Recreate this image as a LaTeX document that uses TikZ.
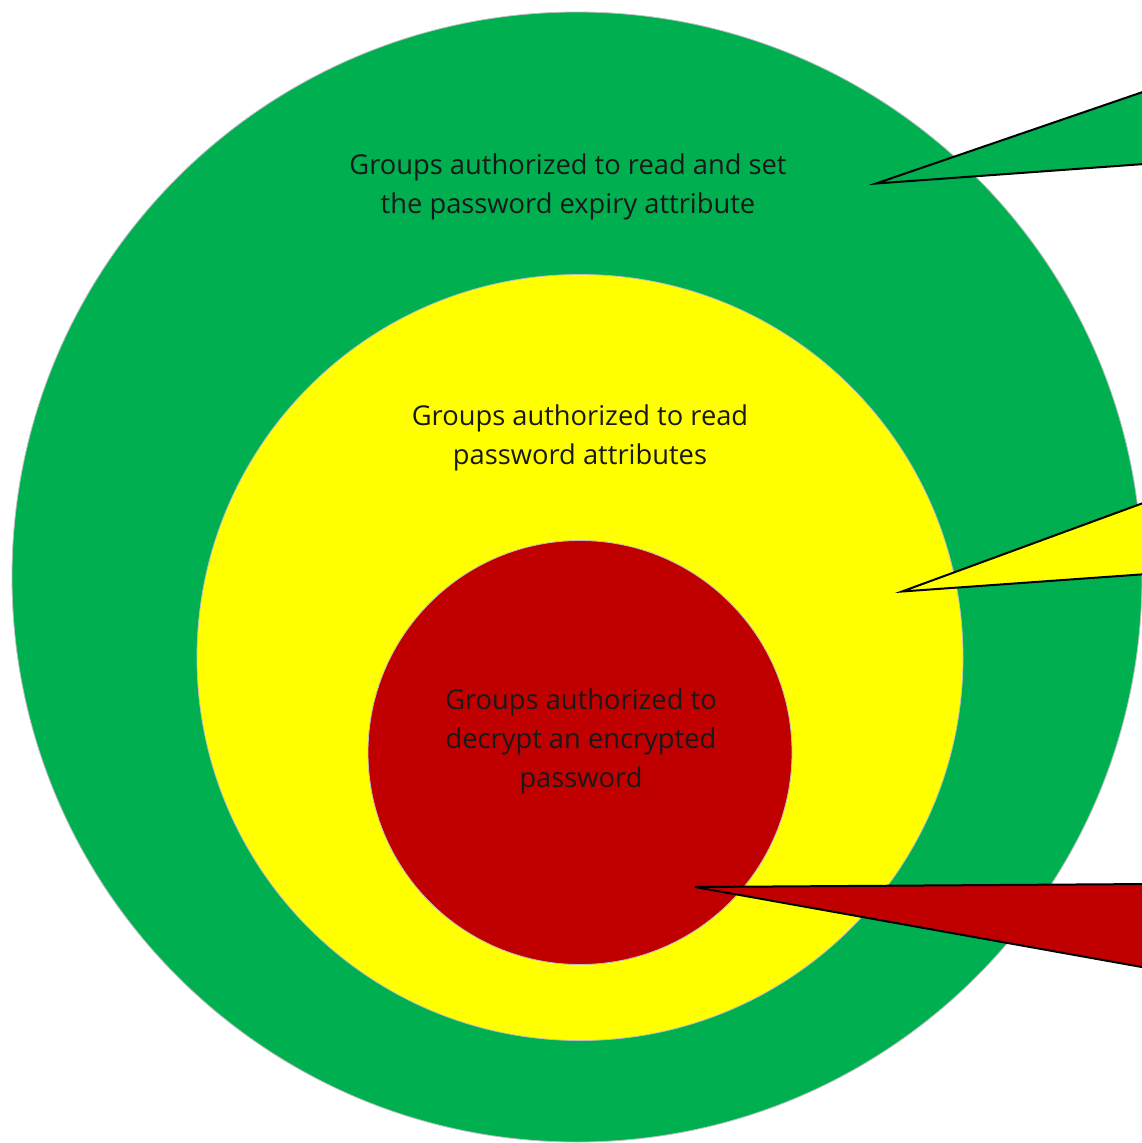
\documentclass[tikz,border=0pt]{standalone}
\usepackage{fontspec}
\setmainfont{Open Sans}
\definecolor{ggreen}{HTML}{00B050}
\definecolor{gyellow}{HTML}{FFFF00}
\definecolor{gred}{HTML}{C00000}
\begin{document}
\begin{tikzpicture}[x=1pt,y=-1pt,
  ring/.style={draw=black!25,line width=0.8pt},
  lbl/.style={align=center,font=\fontsize{27.3}{39}\selectfont,text=black!90,inner sep=0pt},
  wedge/.style={draw=black,line width=2pt,line join=miter}]
\useasboundingbox (0,0) rectangle (1142,1143);
\clip (0,0) rectangle (1142,1143);
\fill[white] (0,0) rectangle (1142,1143);
\node[ring,fill=ggreen,circle,minimum size=1130pt,inner sep=0pt] (g) at (577,577) {};
\node[ring,fill=gyellow,circle,minimum size=766pt,inner sep=0pt] (y) at (580,657.5) {};
\node[ring,fill=gred,circle,minimum size=424pt,inner sep=0pt] (r) at (580,752.5) {};
\node[lbl] (tg) at (568,186.5) {Groups authorized to read and set\\ the password expiry attribute};
\node[lbl] (ty) at (580,437.5) {Groups authorized to read\\ password attributes};
\node[lbl] (tr) at (581,741) {Groups authorized to\\ decrypt an encrypted\\ password};
\coordinate (gt) at (876,183.5);
\coordinate (ga) at (1150,89.5);
\coordinate (gb) at (1150,163.6);
\coordinate (yt) at (902,591.5);
\coordinate (ya) at (1150,500.5);
\coordinate (yb) at (1150,573.8);
\coordinate (rt) at (695,887);
\coordinate (ra) at (1150,884);
\coordinate (rb) at (1150,968.5);
\draw[wedge,fill=ggreen] (ga) -- (gt) -- (gb);
\draw[wedge,fill=gyellow] (ya) -- (yt) -- (yb);
\draw[wedge,fill=gred] (ra) -- (rt) -- (rb);
\end{tikzpicture}
\end{document}
